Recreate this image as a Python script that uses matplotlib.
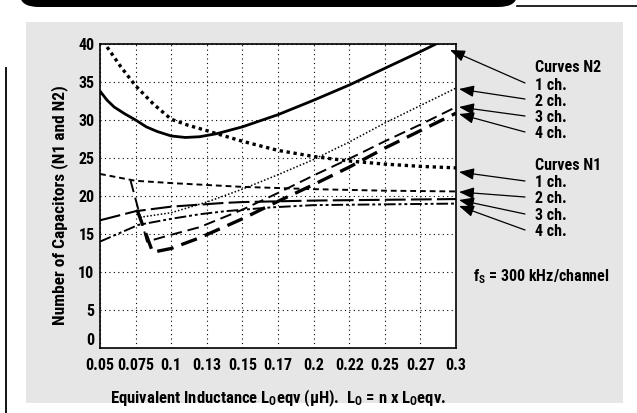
import matplotlib
matplotlib.use("Agg")
import matplotlib.pyplot as plt
from matplotlib import font_manager
from matplotlib.patches import FancyBboxPatch, Rectangle
from matplotlib.lines import Line2D

# pick a condensed bold face if one is installed
installed = {f.name for f in font_manager.fontManager.ttflist}
family = 'Liberation Sans'
for cand in ['Liberation Sans Narrow', 'DejaVu Sans Condensed', 'Roboto Condensed', 'Open Sans Condensed']:
    if cand in installed:
        family = cand
        break
narrow = family != 'Liberation Sans'

plt.rcParams['font.family'] = [family, 'DejaVu Sans']
plt.rcParams['font.weight'] = 'bold'
plt.rcParams['mathtext.fontset'] = 'custom'
plt.rcParams['mathtext.rm'] = family + ':bold'
plt.rcParams['mathtext.it'] = family + ':bold'
plt.rcParams['mathtext.bf'] = family + ':bold'

# x positions (uH) and tick labels
x_ticks = [0.05, 0.075, 0.1, 0.125, 0.15, 0.175, 0.2, 0.225, 0.25, 0.275, 0.3]
x_tick_labels = ["0.05", "0.075", "0.1", "0.13", "0.15", "0.17", "0.2", "0.22", "0.25", "0.27", "0.3"]
y_ticks = [0, 5, 10, 15, 20, 25, 30, 35, 40]

# Curves N2
n2_1ch_x = [0.05, 0.055, 0.06, 0.0675, 0.075, 0.0825, 0.09, 0.1, 0.11, 0.12, 0.132, 0.15, 0.175,
            0.2, 0.225, 0.25, 0.275, 0.3]
n2_1ch_y = [33.8, 32.6, 31.7, 30.8, 30.0, 29.1, 28.5, 27.9, 27.7, 27.8, 28.2, 29.1, 30.7,
            32.6, 34.6, 36.8, 39.0, 41.3]

n2_2ch_x = [0.078, 0.1, 0.125, 0.15, 0.175, 0.2, 0.225, 0.25, 0.275, 0.3]
n2_2ch_y = [17.2, 17.8, 19.2, 20.9, 22.8, 24.8, 27.1, 29.6, 31.9, 34.2]

n2_3ch_x = [0.0715, 0.083, 0.1, 0.12, 0.15, 0.175, 0.2, 0.225, 0.25, 0.275, 0.3]
n2_3ch_y = [22.0, 14.0, 14.9, 15.9, 18.2, 20.4, 22.7, 24.9, 27.2, 29.4, 31.7]

n2_4ch_x = [0.076, 0.087, 0.1, 0.12, 0.15, 0.175, 0.2, 0.225, 0.25, 0.275, 0.3]
n2_4ch_y = [18.2, 12.6, 13.1, 14.5, 17.0, 19.3, 21.5, 23.8, 26.3, 28.6, 30.9]

# Curves N1
n1_1ch_x = [0.055, 0.065, 0.075, 0.0875, 0.1, 0.112, 0.125, 0.132, 0.15, 0.175, 0.2, 0.225,
            0.25, 0.275, 0.3]
n1_1ch_y = [39.6, 36.9, 34.5, 32.1, 30.1, 29.3, 28.6, 28.2, 27.2, 26.0, 25.2, 24.6,
            24.2, 23.9, 23.7]

n1_2ch_x = [0.05, 0.075, 0.1, 0.15, 0.2, 0.25, 0.3]
n1_2ch_y = [22.9, 22.0, 21.7, 21.2, 20.9, 20.7, 20.6]

n1_3ch_x = [0.05, 0.075, 0.1, 0.138, 0.15, 0.2, 0.25, 0.3]
n1_3ch_y = [16.8, 18.0, 18.6, 19.1, 19.2, 19.4, 19.5, 19.6]

n1_4ch_x = [0.05, 0.077, 0.1, 0.12, 0.138, 0.17, 0.2, 0.25, 0.3]
n1_4ch_y = [14.0, 16.2, 17.0, 17.6, 18.0, 18.5, 18.8, 18.9, 19.0]

W, H = 637, 413
fig = plt.figure(figsize=(W / 100, H / 100), dpi=100)
fig.patch.set_facecolor('white')


def fx(px):
    return px / W


def fy(py):
    return 1 - py / H


# decoration: gray panel, banner, left rule (behind the axes)
fig.patches.append(Rectangle((fx(26), fy(403)), fx(623) - fx(26), fy(22) - fy(403),
                             transform=fig.transFigure, facecolor='#e6e6e6', edgecolor='none', zorder=-5))
fig.patches.append(FancyBboxPatch((fx(20), fy(7)), fx(517) - fx(20), fy(-20) - fy(7),
                                  boxstyle="round,pad=0,rounding_size=0.03", transform=fig.transFigure,
                                  facecolor='black', edgecolor='none', zorder=-5))
fig.lines.append(Line2D([fx(517), fx(637)], [fy(6), fy(6)], transform=fig.transFigure,
                        color='black', lw=1.2, zorder=-5))
fig.lines.append(Line2D([fx(6.5), fx(6.5)], [fy(68), fy(413)], transform=fig.transFigure,
                        color='black', lw=1.3, zorder=-5))

ax = fig.add_axes([fx(100), fy(348), fx(456) - fx(100), fy(44) - fy(348)])
ax.set_facecolor('white')

ax.plot(n2_1ch_x, n2_1ch_y, color='black', lw=2.0, solid_capstyle='butt')
ax.plot(n2_2ch_x, n2_2ch_y, color='black', lw=1.1, linestyle=(0, (1, 1.3)))
ax.plot(n2_3ch_x, n2_3ch_y, color='black', lw=1.4, linestyle=(0, (6, 3)))
ax.plot(n2_4ch_x, n2_4ch_y, color='black', lw=2.4, linestyle=(0, (5, 2.5)))

ax.plot(n1_1ch_x, n1_1ch_y, color='black', lw=2.4, linestyle=(0, (1, 1.1)))
ax.plot(n1_2ch_x, n1_2ch_y, color='black', lw=1.4, linestyle=(0, (3, 2)))
ax.plot(n1_3ch_x, n1_3ch_y, color='black', lw=1.5, linestyle=(0, (10, 2.5)))
ax.plot(n1_4ch_x, n1_4ch_y, color='black', lw=1.4, linestyle=(0, (6, 1.5, 1.5, 1.5, 1.5, 1.5)))

fs_tick = 11.5 if narrow else 9.5
fs_text = 11.5 if narrow else 9.5

ax.set_xlim(0.05, 0.3)
ax.set_ylim(0, 40)
ax.set_xticks(x_ticks)
ax.set_xticklabels(x_tick_labels)
ax.set_yticks(y_ticks)
ax.tick_params(length=0, labelsize=fs_tick)
ax.tick_params(axis='x', pad=7)
ax.tick_params(axis='y', pad=4)
for lab in ax.get_xticklabels() + ax.get_yticklabels():
    lab.set_fontweight('bold')
ax.get_yticklabels()[0].set_va('bottom')
ax.grid(True, color='black', linestyle=(0, (1, 3)), lw=0.8)
for sp in ax.spines.values():
    sp.set_linewidth(1.2)

ax.set_xlabel(r"Equivalent Inductance L$_{\rm O}$eqv ($\mu$H).  L$_{\rm O}$ = n x L$_{\rm O}$eqv.",
              fontsize=fs_text + 0.5, fontweight='bold')
ax.set_ylabel("Number of Capacitors (N1 and N2)", fontsize=fs_text + 1, fontweight='bold')
ax.xaxis.set_label_coords(0.5, (348 - 388) / 304)
ax.yaxis.set_label_coords((68 - 100) / 356, 0.47)

# right-hand labels with arrows
labels = [("Curves N2", 67, None), ("1 ch.", 85, (450, 50)), ("2 ch.", 101, (459, 89)),
          ("3 ch.", 118, (459, 107)), ("4 ch.", 134, (459, 114)),
          ("Curves N1", 166, None), ("1 ch.", 183, (459, 172)), ("2 ch.", 199, (459, 192)),
          ("3 ch.", 216, (459, 200)), ("4 ch.", 232, (459, 206))]
for txt, ty, tip in labels:
    fig.text(fx(535), fy(ty), txt, fontsize=fs_text, fontweight='bold', va='center', ha='left')
    if tip is not None:
        ax.annotate("", xy=(fx(tip[0]), fy(tip[1])), xycoords='figure fraction',
                    xytext=(fx(525), fy(ty - 2)), textcoords='figure fraction',
                    arrowprops=dict(arrowstyle='-|>,head_length=0.9,head_width=0.35',
                                    color='black', lw=0.9, shrinkA=0, shrinkB=0),
                    annotation_clip=False)

fig.text(fx(473), fy(277), r"f$_{\rm S}$ = 300 kHz/channel", fontsize=fs_text, fontweight='bold',
         va='center', ha='left')

fig.savefig("out.png", dpi=100)
